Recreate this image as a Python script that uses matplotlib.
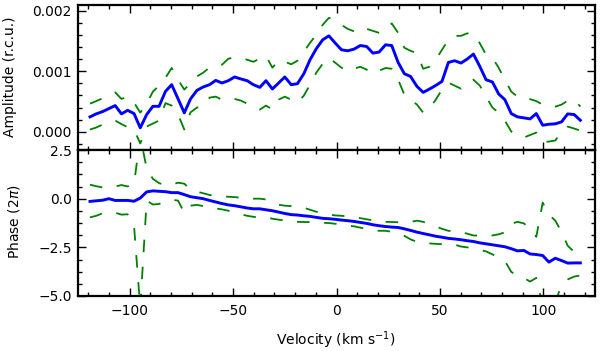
import matplotlib
matplotlib.use('Agg')
import matplotlib.pyplot as plt
import numpy as np
from matplotlib.ticker import MultipleLocator, FuncFormatter

# velocity grid (km/s)
velocity = [-119.2, -116.2, -113.1, -110.1, -107.0, -104.0, -101.0, -97.9, -94.9, -91.8,
            -88.8, -85.8, -82.7, -79.7, -76.6, -73.6, -70.6, -67.5, -64.5, -61.4,
            -58.4, -55.4, -52.3, -49.3, -46.2, -43.2, -40.2, -37.1, -34.1, -31.0,
            -28.0, -25.0, -21.9, -18.9, -15.8, -12.8, -9.8, -6.7, -3.7, -0.6,
            2.4, 5.4, 8.5, 11.5, 14.6, 17.6, 20.6, 23.7, 26.7, 29.8,
            32.8, 35.8, 38.9, 41.9, 45.0, 48.0, 51.0, 54.1, 57.1, 60.2,
            63.2, 66.2, 69.3, 72.3, 75.4, 78.4, 81.4, 84.5, 87.5, 90.6,
            93.6, 96.6, 99.7, 102.7, 105.8, 108.8, 111.8, 114.9, 117.9]

# amplitude, in units of 1e-3 r.c.u.
amp = [0.247, 0.296, 0.334, 0.383, 0.433, 0.296, 0.355, 0.301, 0.066, 0.285,
       0.421, 0.421, 0.668, 0.778, 0.543, 0.313, 0.543, 0.684, 0.740, 0.778,
       0.849, 0.806, 0.844, 0.905, 0.872, 0.844, 0.778, 0.734, 0.844, 0.707,
       0.806, 0.905, 0.778, 0.794, 0.959, 1.189, 1.370, 1.518, 1.584, 1.464,
       1.354, 1.337, 1.365, 1.424, 1.408, 1.299, 1.316, 1.436, 1.424, 1.145,
       0.959, 0.914, 0.750, 0.651, 0.707, 0.766, 0.832, 1.145, 1.173, 1.135,
       1.201, 1.283, 1.079, 0.860, 0.822, 0.625, 0.531, 0.301, 0.247, 0.230,
       0.214, 0.301, 0.109, 0.125, 0.132, 0.164, 0.296, 0.285, 0.191]
amp_hi = [0.465, 0.507, 0.553, 0.597, 0.651, 0.543, 0.581, 0.482, 0.317, 0.465,
          0.663, 0.762, 0.893, 1.053, 0.860, 0.696, 0.811, 0.914, 0.975, 1.062,
          1.079, 1.107, 1.206, 1.230, 1.222, 1.189, 1.156, 1.206, 1.255, 1.058,
          1.181, 1.156, 1.115, 1.173, 1.321, 1.469, 1.600, 1.765, 1.880, 1.847,
          1.765, 1.699, 1.658, 1.724, 1.699, 1.666, 1.633, 1.683, 1.789, 1.633,
          1.387, 1.337, 1.296, 1.041, 1.074, 1.189, 1.354, 1.518, 1.584, 1.584,
          1.625, 1.617, 1.461, 1.271, 1.222, 1.058, 0.860, 0.663, 0.581, 0.531,
          0.539, 0.507, 0.449, 0.416, 0.416, 0.449, 0.515, 0.531, 0.416]
amp_lo = [0.038, 0.071, 0.120, 0.153, 0.186, 0.128, 0.076, 0.038, -0.192, 0.087,
          0.137, 0.186, 0.474, 0.433, 0.285, 0.038, 0.322, 0.400, 0.421, 0.564,
          0.581, 0.531, 0.548, 0.543, 0.515, 0.465, 0.433, 0.367, 0.433, 0.367,
          0.531, 0.581, 0.531, 0.482, 0.597, 0.778, 0.975, 1.123, 1.222, 1.140,
          1.058, 0.997, 1.041, 1.074, 1.025, 0.959, 1.008, 1.053, 1.041, 0.860,
          0.613, 0.531, 0.449, 0.317, 0.391, 0.531, 0.696, 0.811, 0.762, 0.712,
          0.811, 0.860, 0.762, 0.581, 0.400, 0.317, 0.186, 0.005, -0.061, -0.094,
          -0.053, -0.012, -0.171, -0.160, -0.143, 0.005, 0.087, 0.054, 0.021]

# phase, in units of 2 pi
phase = [-0.14, -0.11, -0.08, 0.00, -0.09, -0.09, -0.09, -0.13, 0.03, 0.35,
         0.40, 0.38, 0.36, 0.31, 0.31, 0.21, 0.10, 0.05, 0.00, -0.09,
         -0.17, -0.25, -0.32, -0.36, -0.42, -0.48, -0.52, -0.52, -0.57, -0.62,
         -0.69, -0.76, -0.82, -0.84, -0.88, -0.91, -0.96, -1.01, -1.03, -1.06,
         -1.10, -1.13, -1.17, -1.22, -1.27, -1.34, -1.39, -1.43, -1.46, -1.48,
         -1.55, -1.63, -1.72, -1.79, -1.86, -1.93, -1.98, -2.04, -2.07, -2.11,
         -2.16, -2.20, -2.27, -2.32, -2.37, -2.42, -2.47, -2.57, -2.68, -2.66,
         -2.84, -2.87, -2.92, -3.26, -3.06, -3.18, -3.31, -3.30, -3.30]
phase_hi = [0.72, 0.64, 0.58, 0.62, 0.62, 0.70, 0.63, 0.75, 3.20, 1.55,
            1.02, 0.80, 0.68, 0.72, 0.82, 0.77, 0.46, 0.36, 0.28, 0.19,
            0.15, 0.12, 0.10, 0.08, 0.05, 0.03, 0.00, 0.00, -0.04, -0.15,
            -0.31, -0.36, -0.38, -0.41, -0.46, -0.57, -0.67, -0.77, -0.82, -0.86,
            -0.88, -0.91, -0.95, -1.00, -1.06, -1.11, -1.17, -1.19, -1.20, -1.21,
            -1.21, -1.19, -1.13, -1.19, -1.31, -1.42, -1.55, -1.65, -1.67, -1.70,
            -1.80, -1.89, -1.90, -1.93, -1.89, -1.83, -1.73, -1.29, -1.19, -1.27,
            -1.55, -1.96, -0.20, -0.82, -1.13, -1.70, -2.42, -2.73, -2.73]
phase_lo = [-0.96, -0.88, -0.75, -0.72, -0.72, -0.82, -0.80, -1.40, -5.60, -0.10,
            -0.30, -0.27, -0.15, -0.05, -0.10, -0.73, -0.36, -0.32, -0.38, -0.42,
            -0.50, -0.55, -0.62, -0.72, -0.80, -0.88, -0.93, -0.99, -0.96, -1.03,
            -1.08, -1.12, -1.13, -1.19, -1.20, -1.20, -1.20, -1.24, -1.25, -1.29,
            -1.32, -1.39, -1.42, -1.49, -1.55, -1.62, -1.65, -1.65, -1.70, -1.75,
            -1.91, -2.09, -2.22, -2.29, -2.30, -2.32, -2.34, -2.35, -2.36, -2.46,
            -2.50, -2.55, -2.63, -2.71, -2.86, -3.04, -3.20, -3.76, -3.97, -4.07,
            -4.26, -4.07, -5.50, -5.60, -5.30, -4.45, -4.15, -4.00, -3.95]

plt.rcParams['font.family'] = 'DejaVu Sans'
plt.rcParams['font.size'] = 10
plt.rcParams['lines.scale_dashes'] = False

def uminus(fmt):
    def f(x, pos):
        s = fmt % x
        if float(s) == 0:
            s = s.replace('-', '')
        return s.replace('-', '\u2212')
    return FuncFormatter(f)

fig = plt.figure(figsize=(6, 3.51), dpi=100)
ax1 = fig.add_axes([0.13, 0.5726, 0.8617, 0.4144])
ax2 = fig.add_axes([0.13, 0.1567, 0.8617, 0.4159], sharex=ax1)

v = np.array(velocity)
scale = 1e-3
ax1.plot(v, np.array(amp_hi) * scale, color='g', lw=1.3, dashes=(9, 10.5))
ax1.plot(v, np.array(amp_lo) * scale, color='g', lw=1.3, dashes=(9, 10.5))
ax1.plot(v, np.array(amp) * scale, color='b', lw=2.1)

ax2.plot(v, phase_hi, color='g', lw=1.3, dashes=(9, 10.5))
ax2.plot(v, phase_lo, color='g', lw=1.3, dashes=(9, 10.5))
ax2.plot(v, phase, color='b', lw=2.1)

ax1.set_xlim(-125, 125)
ax1.set_ylim(-0.0003, 0.0021)
ax2.set_ylim(-5.0, 2.5)

ax1.yaxis.set_major_locator(MultipleLocator(0.001))
ax1.yaxis.set_minor_locator(MultipleLocator(0.0002))
ax1.yaxis.set_major_formatter(uminus('%.3f'))
ax2.yaxis.set_major_locator(MultipleLocator(2.5))
ax2.yaxis.set_minor_locator(MultipleLocator(0.625))
ax2.yaxis.set_major_formatter(uminus('%.1f'))
ax2.xaxis.set_major_locator(MultipleLocator(50))
ax2.xaxis.set_minor_locator(MultipleLocator(10))

for ax in (ax1, ax2):
    for sp in ax.spines.values():
        sp.set_linewidth(1.6)
    ax.tick_params(which='both', direction='in', top=True, right=True, width=1.0)
    ax.tick_params(which='major', length=6)
    ax.tick_params(which='minor', length=3)
    ax.tick_params(axis='y', pad=4.5)
    ax.tick_params(axis='x', pad=6)
plt.setp(ax1.get_xticklabels(), visible=False)

fig.text(10 / 600, 1 - 77 / 351, 'Amplitude (r.c.u.)', rotation=90, ha='center', va='center')
fig.text(14 / 600, 1 - 222 / 351, r'Phase (2$\pi$)', rotation=90, ha='center', va='center')
fig.text(336 / 600, 1 - 340 / 351, r'Velocity (km s$^{-1}$)', ha='center', va='center')

fig.savefig('out.png', dpi=100)
